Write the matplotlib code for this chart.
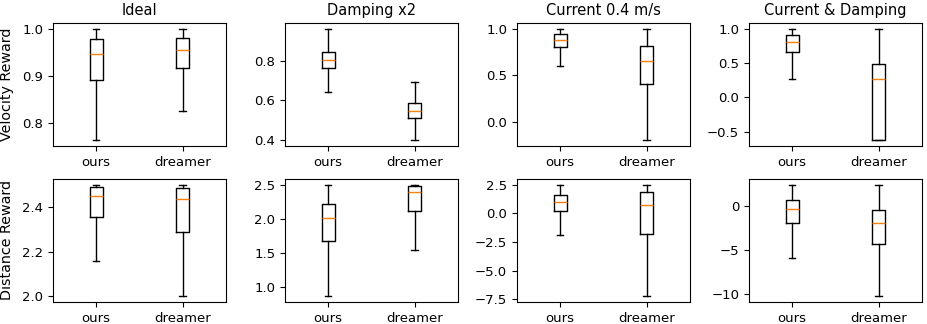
import matplotlib
matplotlib.use('Agg')
import matplotlib.pyplot as plt

titles = ['Ideal', 'Damping x2', 'Current 0.4 m/s', 'Current & Damping']
methods = ['ours', 'dreamer']
row_labels = ['Velocity Reward', 'Distance Reward']

# [whislo, q1, median, q3, whishi] per method, per scenario
vel_ours = [[0.762, 0.890, 0.946, 0.977, 1.0],
            [0.643, 0.764, 0.806, 0.845, 0.963],
            [0.595, 0.800, 0.880, 0.945, 1.0],
            [0.265, 0.655, 0.800, 0.910, 1.0]]
vel_dreamer = [[0.825, 0.917, 0.954, 0.979, 1.0],
               [0.398, 0.510, 0.545, 0.585, 0.695],
               [-0.200, 0.405, 0.655, 0.810, 1.0],
               [-0.625, -0.620, 0.265, 0.480, 1.0]]
dist_ours = [[2.16, 2.357, 2.45, 2.49, 2.50],
             [0.87, 1.67, 2.01, 2.21, 2.50],
             [-1.9, 0.2, 1.0, 1.6, 2.5],
             [-5.9, -2.0, -0.4, 0.6, 2.4]]
dist_dreamer = [[2.0, 2.29, 2.435, 2.485, 2.50],
                [1.55, 2.11, 2.39, 2.48, 2.50],
                [-7.25, -1.8, 0.75, 1.85, 2.5],
                [-10.3, -4.4, -2.0, -0.5, 2.35]]

rows = [(vel_ours, vel_dreamer), (dist_ours, dist_dreamer)]


def stats(v, label):
    return dict(whislo=v[0], q1=v[1], med=v[2], q3=v[3], whishi=v[4],
                label=label, fliers=[])


plt.rcParams['xtick.labelsize'] = 9.5
plt.rcParams['ytick.labelsize'] = 9.5

fig, axes = plt.subplots(2, 4, figsize=(9.28, 3.24), dpi=100)
for r, (ours, dreamer) in enumerate(rows):
    for c in range(4):
        ax = axes[r, c]
        ax.bxp([stats(ours[c], methods[0]), stats(dreamer[c], methods[1])],
               showfliers=False)
        if r == 0:
            ax.set_title(titles[c], fontsize=10.5)
        if c == 0:
            ax.set_ylabel(row_labels[r], fontsize=10.3)
            ax.yaxis.set_label_coords(-0.225, 0.5)

axes[0, 0].set_yticks([0.8, 0.9, 1.0])
axes[0, 1].set_yticks([0.4, 0.6, 0.8])
axes[0, 2].set_yticks([0.0, 0.5, 1.0])
axes[0, 3].set_yticks([-0.5, 0.0, 0.5, 1.0])
axes[1, 0].set_yticks([2.0, 2.2, 2.4])
axes[1, 1].set_yticks([1.0, 1.5, 2.0, 2.5])
axes[1, 2].set_yticks([-7.5, -5.0, -2.5, 0.0, 2.5])
axes[1, 3].set_yticks([-10, -5, 0])

plt.subplots_adjust(left=0.057, right=0.9935, top=0.929, bottom=0.068,
                    wspace=0.341, hspace=0.268)
plt.savefig('out.png')
